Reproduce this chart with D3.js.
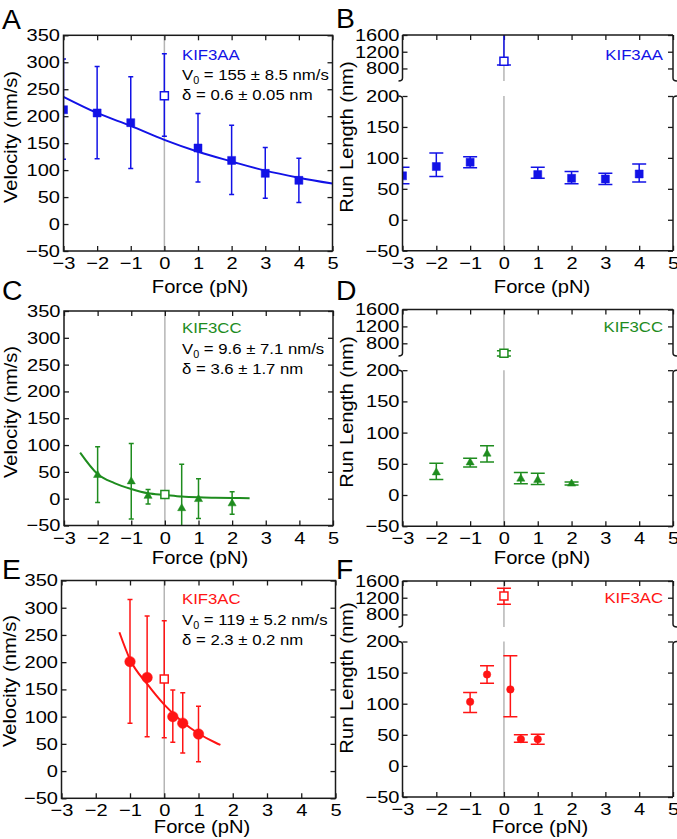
<!DOCTYPE html>
<html><head><meta charset="utf-8">
<script src="https://cdn.jsdelivr.net/npm/d3@7"></script>
<style>body{margin:0;background:#fff}</style>
</head><body><svg id="chart" width="677" height="839"></svg>
<script>
// ---------- data ----------
const forceTicks = [-3,-2,-1,0,1,2,3,4,5];
const velocityTicks = [-50,0,50,100,150,200,250,300,350];
const runLowTicks = [-50,0,50,100,150,200];
const runHighTicks = [800,1200,1600];
const motorNames = ["KIF3AA","KIF3CC","KIF3AC"];
const v0Labels = ["155 ± 8.5 nm/s","9.6 ± 7.1 nm/s","119 ± 5.2 nm/s"];
const deltaLabels = ["0.6 ± 0.05 nm","3.6 ± 1.7 nm","2.3 ± 0.2 nm"];

// A: KIF3AA velocity
const aForce = [-3,-2,-1,1,2,3,4];
const aVelocity = [212,206,188,141,118,94,81];
const aVelocityLo = [120,121,103,78,55,48,40];
const aVelocityHi = [306,292,273,205,183,142,122];
const aZeroVelocity = [238], aZeroLo = [163], aZeroHi = [316];
const aFitForce = [-3,-2,-1,0,1,2,3,4,5];
const aFitVelocity = [236,206,182,156,134,116,99,86,75];

// B: KIF3AA run length
const bForce = [-3,-2,-1,1,2,3,4];
const bRun = [71,86,93,73,67,66,74];
const bRunLo = [58,70,84,67,58,57,61];
const bRunHi = [85,108,102,85,78,75,90];
const bZeroRun = [975], bZeroLo = [880], bZeroHi = [1700];

// C: KIF3CC velocity
const cForce = [-2,-1,-0.5,0.5,1,2];
const cVelocity = [44,32,5,-18,-1,-9];
const cVelocityLo = [-7,-38,-10,-100,-37,-29];
const cVelocityHi = [97,103,17,64,37,13];
const cZeroVelocity = [8], cZeroLo = [8], cZeroHi = [8];
const cFitForce = [-2.52,-2,-1.5,-1,-0.5,0,0.5,1,1.5,2,2.52];
const cFitVelocity = [86,46,29,18,10,7,4,2.5,1.8,1.3,1];

// D: KIF3CC run length
const dForce = [-2,-1,-0.5,0.5,1,2];
const dRun = [36,52,66,26,24,18];
const dRunLo = [25,45,53,18,17,16];
const dRunHi = [51,59,79,36,35,21];
const dZeroRun = [565], dZeroLo = [502], dZeroHi = [626];

// E: KIF3AC velocity
const eForce = [-1,-0.5,0.25,0.54,1];
const eVelocity = [201,172,100,88,68];
const eVelocityLo = [88,63,53,33,17];
const eVelocityHi = [315,285,149,144,119];
const eZeroVelocity = [169], eZeroLo = [61], eZeroHi = [276];
const eFitForce = [-1.31,-1,-0.5,0,0.5,1,1.5,1.64];
const eFitVelocity = [255,205,160,122,92,69,52,48];

// F: KIF3AC run length
const fForce = [-1,-0.5,0.19,0.5,1];
const fRun = [103,147,123,43,43];
const fRunLo = [86,133,79,38,35];
const fRunHi = [118,161,177,50,51];
const fZeroRun = [1240], fZeroLo = [1042], fZeroHi = [1425];

// ---------- style ----------
const BLUE = "#1212e6", GREEN = "#1e8c1e", RED = "#ff1414";
const FONT = '"Liberation Sans", Arial, Helvetica, sans-serif';
const TICK_SIZE = 17, TICK_SX = 1.18;
const TITLE_SIZE = 18, TITLE_SX = 1.12;
const ANN_SIZE = 15.5, ANN_SX = 1.08;
const FRAME = "#1a1a1a";
const fmt = d3.format("d");

const svg = d3.select("#chart");

function addText(g, x, y, str, size, o = {}) {
  const t = g.append("text")
    .attr("transform", `translate(${x},${y}) rotate(${o.rot || 0}) scale(${o.sx || 1},1)`)
    .attr("text-anchor", o.anchor || "start")
    .attr("font-size", size).attr("font-family", FONT)
    .attr("fill", o.fill || "#000");
  if (str !== null) t.text(str);
  return t;
}

function styleAxis(sel, labels) {
  sel.select(".domain").remove();
  sel.selectAll(".tick line").attr("stroke", FRAME).attr("stroke-width", 1.3);
  if (!labels) { sel.selectAll(".tick text").remove(); return; }
  sel.selectAll(".tick text")
    .attr("font-size", TICK_SIZE).attr("font-family", FONT).attr("fill", "#000")
    .each(function () {
      const t = d3.select(this);
      const x = +t.attr("x") || 0;
      t.attr("x", x / TICK_SX).attr("transform", `scale(${TICK_SX},1)`);
    });
}

function marker(type, size) {
  if (type === "square") return d3.symbol().type(d3.symbolSquare).size(size * size)();
  if (type === "triangle") return d3.symbol().type(d3.symbolTriangle).size(size * size * 0.45)();
  return d3.symbol().type(d3.symbolCircle).size(Math.PI * size * size / 4)();
}

function errorBars(g, x, y, xs, lo, hi, dom, capW, color) {
  xs.forEach((f, i) => {
    g.append("line").attr("x1", x(f)).attr("x2", x(f)).attr("y1", y(lo[i])).attr("y2", y(hi[i]))
      .attr("stroke", color).attr("stroke-width", 1.5);
    [lo[i], hi[i]].forEach(v => {
      if (v < dom[0] || v > dom[1]) return;
      g.append("line").attr("x1", x(f) - capW / 2).attr("x2", x(f) + capW / 2)
        .attr("y1", y(v)).attr("y2", y(v)).attr("stroke", color).attr("stroke-width", 1.5);
    });
  });
}

function points(g, x, y, xs, vs, type, size, color, open) {
  xs.forEach((f, i) => {
    g.append("path").attr("d", marker(type, size))
      .attr("transform", `translate(${x(f)},${y(vs[i])})`)
      .attr("fill", open ? "#fff" : color)
      .attr("stroke", color).attr("stroke-width", open ? 1.5 : 0.5);
  });
}

function annotations(p) {
  addText(svg, p.letterX, p.letterY, p.letter, 27, { sx: 1.05 });
  addText(svg, p.yTitleX, p.yTitleY, p.yTitle, TITLE_SIZE, { rot: -90, anchor: "middle", sx: TITLE_SX });
  addText(svg, p.xTitleX, p.xTitleY, "Force (pN)", TITLE_SIZE, { anchor: "middle", sx: TITLE_SX });
}

function velocityPanel(p) {
  const g = svg.append("g");
  const x = d3.scaleLinear().domain([-3, 5]).range([p.x0, p.x1]);
  const y = d3.scaleLinear().domain([-50, 350]).range([p.y1, p.y0]);
  const id = "clip" + p.letter;
  svg.append("clipPath").attr("id", id).append("rect")
    .attr("x", p.x0).attr("y", p.y0).attr("width", p.x1 - p.x0).attr("height", p.y1 - p.y0);

  g.append("line").attr("x1", x(0)).attr("x2", x(0)).attr("y1", p.y0).attr("y2", p.y1)
    .attr("stroke", "#b5b5b5").attr("stroke-width", 1.5);

  g.append("g").attr("transform", `translate(${p.x0},0)`)
    .call(d3.axisLeft(y).tickValues(velocityTicks).tickFormat(fmt).tickSize(-5).tickPadding(3.5)).call(s => styleAxis(s, true));
  g.append("g").attr("transform", `translate(${p.x1},0)`)
    .call(d3.axisRight(y).tickValues(velocityTicks).tickSize(-5)).call(s => styleAxis(s, false));
  g.append("g").attr("transform", `translate(0,${p.y1})`)
    .call(d3.axisBottom(x).tickValues(forceTicks).tickFormat(fmt).tickSize(-5).tickPadding(6)).call(s => styleAxis(s, true));
  g.append("g").attr("transform", `translate(0,${p.y0})`)
    .call(d3.axisTop(x).tickValues(forceTicks).tickSize(-5)).call(s => styleAxis(s, false));

  const d = g.append("g").attr("clip-path", `url(#${id})`);
  d.append("path").datum(d3.zip(p.fitF, p.fitV))
    .attr("d", d3.line().x(a => x(a[0])).y(a => y(a[1])).curve(d3.curveMonotoneX))
    .attr("fill", "none").attr("stroke", p.color).attr("stroke-width", 2);
  errorBars(d, x, y, p.force, p.lo, p.hi, [-50, 350], p.capW, p.color);
  errorBars(d, x, y, [0], p.zLo, p.zHi, [-50, 350], p.capW, p.color);
  points(d, x, y, p.force, p.val, p.marker, p.msize, p.color, false);
  points(d, x, y, [0], p.zVal, "square", 8, p.color, true);

  g.append("rect").attr("x", p.x0).attr("y", p.y0).attr("width", p.x1 - p.x0).attr("height", p.y1 - p.y0)
    .attr("fill", "none").attr("stroke", FRAME).attr("stroke-width", 1.5);

  addText(svg, p.annX, p.annY[0], p.name, ANN_SIZE, { fill: p.color, sx: ANN_SX });
  const v = addText(svg, p.annX, p.annY[1], null, ANN_SIZE, { sx: ANN_SX });
  v.append("tspan").text("V");
  v.append("tspan").attr("font-size", 10).attr("dy", 4).text("0");
  v.append("tspan").attr("dy", -4).text(" = " + p.v0);
  addText(svg, p.annX, p.annY[2], "δ = " + p.delta, ANN_SIZE, { sx: ANN_SX });
  annotations(p);
}

function runPanel(p) {
  const g = svg.append("g");
  const x = d3.scaleLinear().domain([-3, 5]).range([p.x0, p.x1]);
  const yU = d3.scaleLinear().domain([500, 1600]).range([p.uBot, p.uTop]);
  const yL = d3.scaleLinear().domain([-50, 200]).range([p.lBot, p.lTop]);
  const idU = "clipU" + p.letter, idL = "clipL" + p.letter;
  svg.append("clipPath").attr("id", idU).append("rect")
    .attr("x", p.x0).attr("y", p.uTop).attr("width", p.x1 - p.x0).attr("height", p.uBot - p.uTop + 8);
  svg.append("clipPath").attr("id", idL).append("rect")
    .attr("x", p.x0).attr("y", p.lTop).attr("width", p.x1 - p.x0).attr("height", p.lBot - p.lTop);

  [[p.uTop, p.uBot], [p.lTop, p.lBot]].forEach(([a, b]) =>
    g.append("line").attr("x1", x(0)).attr("x2", x(0)).attr("y1", a).attr("y2", b)
      .attr("stroke", "#b5b5b5").attr("stroke-width", 1.5));

  g.append("g").attr("transform", `translate(${p.x0},0)`)
    .call(d3.axisLeft(yU).tickValues(runHighTicks).tickFormat(fmt).tickSize(-5).tickPadding(3)).call(s => styleAxis(s, true));
  g.append("g").attr("transform", `translate(${p.x0},0)`)
    .call(d3.axisLeft(yL).tickValues(runLowTicks).tickFormat(fmt).tickSize(-5).tickPadding(3)).call(s => styleAxis(s, true));
  g.append("g").attr("transform", `translate(${p.x1},0)`)
    .call(d3.axisRight(yU).tickValues(runHighTicks).tickSize(-5)).call(s => styleAxis(s, false));
  g.append("g").attr("transform", `translate(${p.x1},0)`)
    .call(d3.axisRight(yL).tickValues(runLowTicks).tickSize(-5)).call(s => styleAxis(s, false));
  g.append("g").attr("transform", `translate(0,${p.lBot})`)
    .call(d3.axisBottom(x).tickValues(forceTicks).tickFormat(fmt).tickSize(-5).tickPadding(6)).call(s => styleAxis(s, true));
  g.append("g").attr("transform", `translate(0,${p.uTop})`)
    .call(d3.axisTop(x).tickValues(forceTicks).tickSize(-5)).call(s => styleAxis(s, false));

  const dL = g.append("g").attr("clip-path", `url(#${idL})`);
  errorBars(dL, x, yL, p.force, p.lo, p.hi, [-50, 200], p.capW, p.color);
  points(dL, x, yL, p.force, p.val, p.marker, p.msize, p.color, false);
  const dU = g.append("g").attr("clip-path", `url(#${idU})`);
  errorBars(dU, x, yU, [0], p.zLo, p.zHi, [480, 1600], p.capW, p.color);
  points(dU, x, yU, [0], p.zVal, "square", 8, p.color, true);

  // broken frame
  const fr = g.append("g").attr("stroke", FRAME).attr("stroke-width", 1.5).attr("fill", "none");
  fr.append("line").attr("x1", p.x0).attr("x2", p.x1).attr("y1", p.uTop).attr("y2", p.uTop);
  fr.append("line").attr("x1", p.x0).attr("x2", p.x1).attr("y1", p.lBot).attr("y2", p.lBot);
  [[p.x0, -1], [p.x1, 1]].forEach(([xx, dir]) => {
    fr.append("path").attr("d", `M${xx},${p.uTop}V${p.uBot - 3}Q${xx},${p.uBot} ${xx + dir * 4},${p.uBot}`);
    fr.append("path").attr("d", `M${xx},${p.lBot}V${p.lTop + 3}Q${xx},${p.lTop} ${xx + dir * 4},${p.lTop}`);
  });

  addText(svg, p.annX, p.annY, p.name, ANN_SIZE, { fill: p.color, anchor: "end", sx: ANN_SX });
  annotations(p);
}

velocityPanel({
  letter: "A", letterX: 2, letterY: 29, x0: 63.5, x1: 332.5, y0: 35.3, y1: 251, color: BLUE,
  force: aForce, val: aVelocity, lo: aVelocityLo, hi: aVelocityHi,
  zVal: aZeroVelocity, zLo: aZeroLo, zHi: aZeroHi, fitF: aFitForce, fitV: aFitVelocity,
  marker: "square", msize: 8, capW: 5,
  name: motorNames[0], v0: v0Labels[0], delta: deltaLabels[0], annX: 182, annY: [60, 80, 100],
  yTitle: "Velocity (nm/s)", yTitleX: 17, yTitleY: 137, xTitleX: 200, xTitleY: 293
});
runPanel({
  letter: "B", letterX: 336, letterY: 28, x0: 402.5, x1: 673, uTop: 35, uBot: 81, lTop: 96, lBot: 250.7, color: BLUE,
  force: bForce, val: bRun, lo: bRunLo, hi: bRunHi, zVal: bZeroRun, zLo: bZeroLo, zHi: bZeroHi,
  marker: "square", msize: 8, capW: 14,
  name: motorNames[0], annX: 663, annY: 60,
  yTitle: "Run Length (nm)", yTitleX: 353, yTitleY: 137, xTitleX: 542, xTitleY: 293
});
velocityPanel({
  letter: "C", letterX: 2, letterY: 300, x0: 64, x1: 333, y0: 311, y1: 525.5, color: GREEN,
  force: cForce, val: cVelocity, lo: cVelocityLo, hi: cVelocityHi,
  zVal: cZeroVelocity, zLo: cZeroLo, zHi: cZeroHi, fitF: cFitForce, fitV: cFitVelocity,
  marker: "triangle", msize: 8, capW: 5,
  name: motorNames[1], v0: v0Labels[1], delta: deltaLabels[1], annX: 182, annY: [332.5, 354, 373.5],
  yTitle: "Velocity (nm/s)", yTitleX: 17, yTitleY: 412, xTitleX: 200, xTitleY: 564
});
runPanel({
  letter: "D", letterX: 336, letterY: 300, x0: 402.5, x1: 673, uTop: 309.5, uBot: 356, lTop: 370.2, lBot: 526.2, color: GREEN,
  force: dForce, val: dRun, lo: dRunLo, hi: dRunHi, zVal: dZeroRun, zLo: dZeroLo, zHi: dZeroHi,
  marker: "triangle", msize: 8, capW: 14,
  name: motorNames[1], annX: 663, annY: 331.7,
  yTitle: "Run Length (nm)", yTitleX: 353, yTitleY: 412, xTitleX: 542, xTitleY: 564
});
velocityPanel({
  letter: "E", letterX: 2, letterY: 579, x0: 61.5, x1: 335.5, y0: 580.5, y1: 798.3, color: RED,
  force: eForce, val: eVelocity, lo: eVelocityLo, hi: eVelocityHi,
  zVal: eZeroVelocity, zLo: eZeroLo, zHi: eZeroHi, fitF: eFitForce, fitV: eFitVelocity,
  marker: "circle", msize: 10.5, capW: 5,
  name: motorNames[2], v0: v0Labels[2], delta: deltaLabels[2], annX: 182, annY: [604, 625, 645],
  yTitle: "Velocity (nm/s)", yTitleX: 16, yTitleY: 681, xTitleX: 202, xTitleY: 833
});
runPanel({
  letter: "F", letterX: 336, letterY: 579, x0: 402.5, x1: 673, uTop: 581, uBot: 627, lTop: 641.5, lBot: 797, color: RED,
  force: fForce, val: fRun, lo: fRunLo, hi: fRunHi, zVal: fZeroRun, zLo: fZeroLo, zHi: fZeroHi,
  marker: "circle", msize: 7.5, capW: 14,
  name: motorNames[2], annX: 663, annY: 603,
  yTitle: "Run Length (nm)", yTitleX: 353, yTitleY: 678, xTitleX: 540, xTitleY: 833
});
</script>
</body></html>
